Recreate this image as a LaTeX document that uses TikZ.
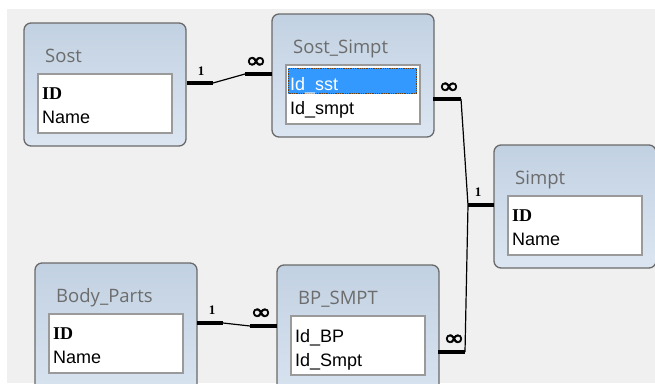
\documentclass[tikz,border=0pt]{standalone}
\usepackage{fontspec}
\newfontfamily\titlefont{Open Sans}
\newfontfamily\fieldfont{Liberation Sans}
\newfontfamily\keyfont{Liberation Serif}
\newfontfamily\symfont[FakeBold=2.5]{DejaVu Sans}

\definecolor{canvas}{HTML}{F0F0F0}
\definecolor{boxedge}{HTML}{6A6A6A}
\definecolor{boxtop}{HTML}{C2D1E2}
\definecolor{boxbottom}{HTML}{DCE6F2}
\definecolor{fieldedge}{HTML}{9A9A9A}
\definecolor{titlegray}{HTML}{6C6C6C}
\definecolor{selblue}{HTML}{3399FF}
\definecolor{focusdots}{HTML}{6A4018}

\tikzset{
  tablebox/.style={draw=boxedge, line width=1.3pt, rounded corners=7pt,
                   top color=boxtop, bottom color=boxbottom},
  fieldbox/.style={draw=fieldedge, fill=white, line width=1.2pt},
  tabletitle/.style={anchor=base west, inner sep=0pt, text=titlegray,
                     font=\titlefont\fontsize{18.5}{20}\selectfont},
  fieldtext/.style={anchor=base west, inner sep=0pt,
                    font=\fieldfont\fontsize{18}{20}\selectfont},
  keytext/.style={anchor=base west, inner sep=0pt,
                  font=\keyfont\bfseries\fontsize{18}{20}\selectfont},
  stub/.style={line width=4pt},
  link/.style={line width=1.2pt},
  onelabel/.style={inner sep=0pt, font=\keyfont\bfseries\fontsize{13}{13}\selectfont},
  manylabel/.style={inner sep=0pt, xscale=1.15,
                    font=\symfont\fontsize{22}{22}\selectfont},
}

% #1 name, #2 left, #3 top, #4 height, #5 title
\newcommand\dbtable[5]{%
  \path[tablebox] (#2,#3) rectangle ++(162,#4);
  \node[tabletitle] (#1-title) at (#2+21,#3+39) {#5};
  \path[fieldbox] (#2+14,#3+51) rectangle ++(134,59);
}

\begin{document}
\begin{tikzpicture}[x=1pt,y=-1pt]
  \useasboundingbox (0,0) rectangle (655,383);
  \clip (0,0) rectangle (655,383);
  \fill[white] (0,0) rectangle (655,383);
  \fill[canvas] (7,9) rectangle (655,383);

  % tables
  \dbtable{sost}{24}{23}{123}{Sost}
  \node[keytext]   (sost-id)   at (42,99)  {ID};
  \node[fieldtext] (sost-name) at (42,123) {Name};

  \dbtable{sostsimpt}{272}{14}{123}{Sost\_Simpt}
  \fill[selblue] (288,68) rectangle (417,94);
  \draw[focusdots, densely dotted, line width=1.3pt] (288.7,68.7) rectangle (416.3,93.3);
  \node[fieldtext, text=white] (sostsimpt-sst)  at (290,90)  {Id\_sst};
  \node[fieldtext]             (sostsimpt-smpt) at (290,114) {Id\_smpt};

  \dbtable{simpt}{494}{145}{123}{Simpt}
  \node[keytext]   (simpt-id)   at (512,221) {ID};
  \node[fieldtext] (simpt-name) at (512,245) {Name};

  \dbtable{body}{35}{263}{150}{Body\_Parts}
  \node[keytext]   (body-id)   at (53,339) {ID};
  \node[fieldtext] (body-name) at (53,363) {Name};

  \dbtable{bpsmpt}{277}{265}{150}{BP\_SMPT}
  \node[fieldtext] (bpsmpt-bp)   at (295,342) {Id\_BP};
  \node[fieldtext] (bpsmpt-smpt) at (295,366) {Id\_Smpt};

  % attachment points of the relationship lines
  \coordinate (sost-out)     at (187,83);
  \coordinate (sost-bend)    at (213,83);
  \coordinate (ss-inbend)    at (245,74);
  \coordinate (ss-in)        at (272,74);
  \coordinate (ss-out)       at (433,99);
  \coordinate (ss-bend)      at (461,99);
  \coordinate (simpt-join)   at (468,205);
  \coordinate (simpt-in)     at (494,205);
  \coordinate (bp-outbend)   at (465,352);
  \coordinate (bp-out)       at (438,352);
  \coordinate (body-out)     at (197,323);
  \coordinate (body-bend)    at (223,323);
  \coordinate (bp-inbend)    at (250,326);
  \coordinate (bp-in)        at (277,326);

  % Sost 1 -- many Sost_Simpt
  \draw[stub] (sost-out) -- (sost-bend);
  \draw[link] (sost-bend) -- (ss-inbend);
  \draw[stub] (ss-inbend) -- (ss-in);
  \node[onelabel]  (sost-one)  at (201,71)   {1};
  \node[manylabel] (ss-many)   at (256,62.5) {∞};

  % Simpt 1 -- many Sost_Simpt, many BP_SMPT
  \draw[stub] (ss-out) -- (ss-bend);
  \draw[link] (ss-bend) -- (simpt-join) -- (bp-outbend);
  \draw[stub] (simpt-join) -- (simpt-in);
  \draw[stub] (bp-out) -- (bp-outbend);
  \node[manylabel] (ss-many2)  at (449,88)  {∞};
  \node[onelabel]  (simpt-one) at (478,192) {1};
  \node[manylabel] (bp-many2)  at (454,340) {∞};

  % Body_Parts 1 -- many BP_SMPT
  \draw[stub] (body-out) -- (body-bend);
  \draw[link] (body-bend) -- (bp-inbend);
  \draw[stub] (bp-inbend) -- (bp-in);
  \node[onelabel]  (body-one)  at (212,310) {1};
  \node[manylabel] (bp-many)   at (261,314) {∞};
\end{tikzpicture}
\end{document}
